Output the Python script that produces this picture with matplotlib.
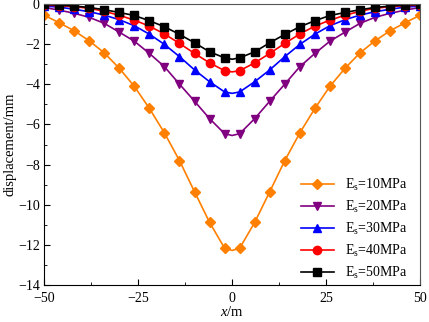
import numpy as np
import matplotlib
matplotlib.use("Agg")
from matplotlib import pyplot as plt
from matplotlib.ticker import MultipleLocator

plt.rcParams['font.family'] = 'Liberation Serif'
plt.rcParams['mathtext.fontset'] = 'custom'
plt.rcParams['mathtext.rm'] = 'Liberation Serif'
plt.rcParams['mathtext.it'] = 'Liberation Serif:italic'

# half profile, x = -50 ... -2 (step 4) then x = 0 ; mirrored for the right side
x_half = [-50, -46, -42, -38, -34, -30, -26, -22, -18, -14, -10, -6, -2, 0]
es10 = [-0.55, -0.93, -1.33, -1.83, -2.43, -3.20, -4.10, -5.20, -6.42, -7.80, -9.35, -10.88, -12.17, -12.28]
es20 = [-0.17, -0.30, -0.46, -0.66, -0.96, -1.40, -1.85, -2.46, -3.12, -3.99, -4.84, -5.71, -6.46, -6.55]
es30 = [-0.10, -0.15, -0.26, -0.38, -0.55, -0.78, -1.08, -1.50, -2.01, -2.62, -3.28, -3.87, -4.38, -4.45]
es40 = [-0.05, -0.08, -0.13, -0.21, -0.36, -0.56, -0.80, -1.10, -1.49, -1.96, -2.46, -2.93, -3.32, -3.38]
es50 = [-0.02, -0.05, -0.10, -0.17, -0.28, -0.42, -0.57, -0.83, -1.13, -1.51, -1.93, -2.38, -2.68, -2.75]

labels = ['10', '20', '30', '40', '50']
colors = ['#FF8000', '#800080', '#0000FF', '#FF0000', '#000000']
markers = ['D', 'v', '^', 'o', 's']


def full(vals):
    v = np.array(vals)
    return np.concatenate([v, v[-2::-1]])


x = np.concatenate([np.array(x_half), -np.array(x_half[-2::-1])])
mark_idx = [i for i in range(len(x)) if x[i] != 0]

fig = plt.figure(figsize=(4.29, 3.22), dpi=100)
ax = fig.add_axes([0.1026, 0.115, 0.877, 0.8724])

for vals, lab, c, m in zip([es10, es20, es30, es40, es50], labels, colors, markers):
    ms = 5 if m == 'D' else 6
    ax.plot(x, full(vals), color=c, marker=m, markersize=ms, lw=1.2,
            markevery=mark_idx, label=r'E$_\mathrm{s}$=' + lab + 'MPa')

ax.set_xlim(-50, 50)
ax.set_ylim(-14, 0)
ax.xaxis.set_major_locator(MultipleLocator(25))
ax.xaxis.set_minor_locator(MultipleLocator(12.5))
ax.yaxis.set_major_locator(MultipleLocator(2))
ax.yaxis.set_minor_locator(MultipleLocator(1))
ax.tick_params(which='both', direction='in', labelsize=10, top=False, right=False)
ax.tick_params(which='major', length=4)
ax.tick_params(which='minor', length=2.5)
ax.tick_params(axis='x', pad=5)
ax.tick_params(axis='y', pad=3)

for s in ['top', 'right']:
    ax.spines[s].set_color('#555555')

ax.set_xlabel(r'$\mathit{x}$/m', fontsize=10.5, labelpad=0)
ax.set_ylabel('displacement/mm', fontsize=10.5, labelpad=1)

ax.legend(loc='lower right', frameon=False, fontsize=10, handlelength=2.4,
          bbox_to_anchor=(1.0, -0.03), labelspacing=0.42)

fig.savefig('out.png', dpi=100)
